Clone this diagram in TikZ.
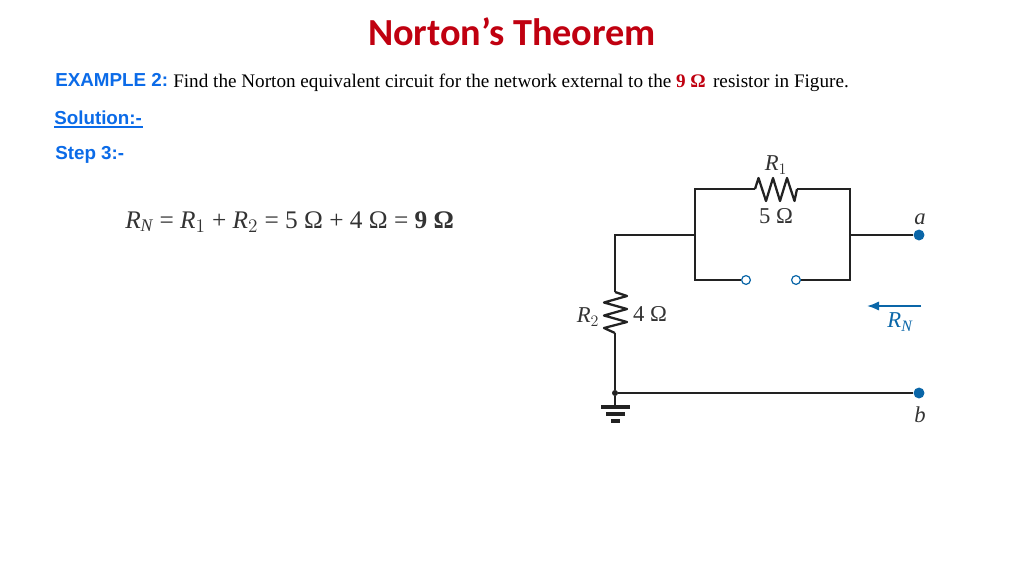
\documentclass[tikz,border=0pt]{standalone}
\usepackage{fontspec}
\usetikzlibrary{arrows.meta}
\setmainfont{Liberation Serif}
\newfontfamily\titlefont{Carlito}
\newfontfamily\headfont{Liberation Sans}
\definecolor{titlered}{HTML}{C00010}
\definecolor{headblue}{HTML}{0B6BE8}
\definecolor{circblue}{HTML}{0A66A8}
\definecolor{wire}{HTML}{222222}
\definecolor{labelgray}{HTML}{333333}
\tikzset{
  wireline/.style={draw=wire,line width=1.6pt,line join=miter},
  zigzagline/.style={draw=wire,line width=1.7pt,line join=round},
  thinwire/.style={draw=wire,line width=1.1pt},
  terminal/.style={circle,fill=circblue,inner sep=0pt,minimum size=8.2pt},
  openpin/.style={circle,draw=circblue,fill=white,line width=0.9pt,inner sep=0pt,minimum size=6.6pt},
  head/.style={font=\headfont\bfseries\fontsize{14.1}{16}\selectfont,text=headblue,inner sep=0pt,anchor=base west},
  circlabel/.style={font=\fontsize{17}{19}\selectfont,text=labelgray,inner sep=0pt},
  junction/.style={circle,fill=wire,inner sep=0pt,minimum size=4.5pt},
}
\begin{document}
\begin{tikzpicture}[x=0.75pt,y=-0.75pt]
\useasboundingbox (0,0) rectangle (1024,576);
\fill[white] (0,0) rectangle (1024,576);
% Heading
\node[font=\titlefont\bfseries\fontsize{28.7}{32}\selectfont,text=titlered,inner sep=0pt,anchor=base] (title) at (512,45) {Norton’s Theorem};
\node[head] (example) at (55,86) {EXAMPLE 2:};
\node[inner sep=0pt,anchor=base west,font=\fontsize{14.37}{16}\selectfont] (task) at (173,87) {Find the Norton equivalent circuit for the network external to the \textcolor{titlered}{\textbf{9 Ω}}\hspace{5.5pt}resistor in Figure.};
\node[head] (solution) at (54,124) {Solution:-};
\draw[headblue,line width=0.8pt] (54,127) -- (143,127);
\node[head] (stepthree) at (55,159) {Step 3:-};
\node[inner sep=0pt,anchor=base west,text=labelgray,font=\fontsize{19}{21}\selectfont] (formula) at (125,228)
  {$\mathit{R_N}$ = $\mathit{R}_1$ + $\mathit{R}_2$ = 5 Ω + 4 Ω = \textbf{9 Ω}};
% Circuit anchors
\coordinate (tl) at (695,189);
\coordinate (tr) at (850,189);
\coordinate (ml) at (695,235);
\coordinate (mr) at (850,235);
\coordinate (bl) at (695,280);
\coordinate (br) at (850,280);
\coordinate (corner) at (615,235);
\coordinate (r1a) at (755,189);
\coordinate (r1b) at (797,189);
\coordinate (r2a) at (615,292);
\coordinate (r2b) at (615,333);
\coordinate (gnd) at (615,407);
\node[terminal] (a) at (919,235) {};
\node[terminal] (b) at (919,393) {};
\node[openpin] (p) at (746,280) {};
\node[openpin] (q) at (796,280) {};
\node[junction] (j) at (615,393) {};
% Wires
\draw[wireline] (r1a) -- (tl) -- (bl) -- (p);
\draw[wireline] (r1b) -- (tr) -- (br) -- (q);
\draw[wireline] (mr) -- (a);
\draw[wireline] (ml) -- (corner) -- (r2a);
\draw[wireline] (r2b) -- (j) -- (gnd);
\draw[thinwire] (j) -- (b);
% Resistors
\draw[zigzagline] (r1a) -- (758.5,178) -- (766,201) -- (773,178) -- (780,201) -- (787,178) -- (794.5,201) -- (r1b);
\draw[zigzagline] (r2a) -- (627,296) -- (604,302.5) -- (627,309) -- (604,315.5) -- (627,322) -- (604,328) -- (r2b);
% Ground
\draw[wire,line width=2.5pt] (601,407) -- (630,407);
\draw[wire,line width=2.5pt] (606,414) -- (625,414);
\draw[wire,line width=2.5pt] (611,421) -- (620,421);
% Reference arrow
\draw[circblue,line width=1.4pt,-{Latex[length=9pt,width=7pt]}] (921,306) -- (867,306);
% Labels
\node[circlabel] (lr1) at (776,165) {$\mathit{R}_1$};
\node[circlabel] (l5) at (776,216) {5 Ω};
\node[circlabel] (lr2) at (588,317) {$\mathit{R}_2$};
\node[circlabel] (l4) at (650,314) {4 Ω};
\node[circlabel,font=\itshape\fontsize{17}{19}\selectfont] (la) at (920,219) {a};
\node[circlabel,font=\itshape\fontsize{17}{19}\selectfont] (lb) at (920,415) {b};
\node[circlabel,text=circblue] (lrn) at (900,322) {$\mathit{R_N}$};
\end{tikzpicture}
\end{document}
